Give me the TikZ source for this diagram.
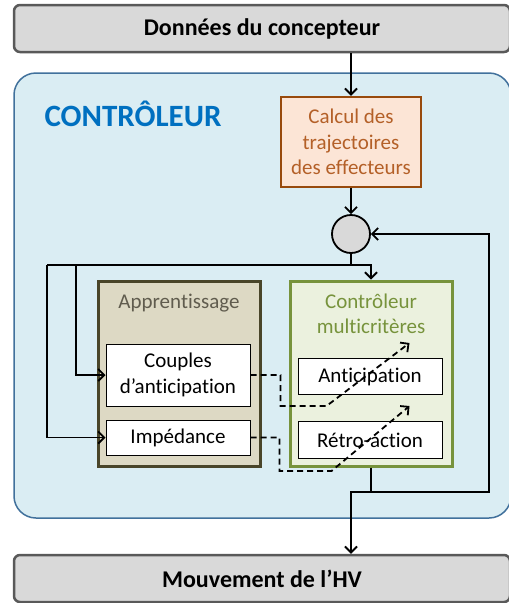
\documentclass[tikz,border=0pt]{standalone}
\usepackage{fontspec}
\setmainfont{Carlito}[Ligatures=NoCommon]
\usepackage{xcolor}
\usetikzlibrary{arrows.meta, positioning}
\definecolor{ctrlfill}{RGB}{218,237,243}
\definecolor{ctrlline}{RGB}{65,113,156}
\definecolor{ctrltext}{RGB}{0,112,192}
\definecolor{calcfill}{RGB}{252,229,214}
\definecolor{calcline}{RGB}{152,74,12}
\definecolor{calctext}{RGB}{180,96,40}
\definecolor{apprfill}{RGB}{221,217,196}
\definecolor{apprline}{RGB}{73,69,41}
\definecolor{apprtext}{RGB}{96,92,78}
\definecolor{multfill}{RGB}{235,241,222}
\definecolor{multline}{RGB}{119,147,60}
\definecolor{greyfill}{RGB}{217,217,217}
\definecolor{greyline}{RGB}{89,89,89}
\tikzset{
x=1pt, y=-1pt, % units of the picture, y goes down
>={Straight Barb[length=6pt,width=12pt]}, % open arrow heads
every node/.style={font=\fontsize{21}{25.5}\selectfont, align=center},
link/.style={line width=1.8pt}, % plain connectors
dashlink/.style={line width=1.8pt, dash pattern=on 6pt off 4pt},
io/.style={draw=greyline, fill=greyfill, line width=2.5pt, rounded corners=6pt,
  minimum width=496pt, minimum height=47pt, font=\fontsize{24}{28}\selectfont\bfseries},
calcbox/.style={draw=calcline, fill=calcfill, text=calctext, line width=2.5pt,
  minimum width=140pt, minimum height=90pt},
sumnode/.style={circle, draw, fill=greyfill, line width=1.8pt, minimum size=38pt},
apprbox/.style={draw=apprline, fill=apprfill, line width=3pt,
  minimum width=162pt, minimum height=185pt},
multbox/.style={draw=multline, fill=multfill, line width=3pt,
  minimum width=162pt, minimum height=185pt},
inbox/.style={draw, fill=white, line width=1pt, minimum width=144pt},
}

\begin{document}
\begin{tikzpicture}
        \useasboundingbox[fill=white] (0,0) rectangle (509,603);

        % controleur en fond
        \node[draw=ctrlline, fill=ctrlfill, line width=1.5pt, rounded corners=22pt,
              minimum width=497pt, minimum height=445pt] (ctrl) at (262.5,295.5) {};
        \node[text=ctrltext, font=\fontsize{31}{36}\selectfont\bfseries] (ctrltitle) at (133,114) {CONTRÔLEUR};

        \node[io] (donnees) at (262,28.5) {Données du concepteur};
        \node[io] (mouvement) at (262,578.5) {Mouvement de l’HV};

        \node[calcbox] (calc) at (351,142) {Calcul des\\trajectoires\\des effecteurs};
        \node[sumnode] (sum) at (351,234) {};

        \node[apprbox] (appr) at (179,373.5) {};
        \node[text=apprtext] (apprtitle) at (179,303) {Apprentissage};
        \node[inbox, minimum height=62pt] (couples) at (178,375) {Couples\\d’anticipation};
        \node[inbox, minimum height=35pt] (imped) at (178,437.5) {Impédance};

        \node[multbox] (mult) at (371,373.5) {};
        \node[text=multline] (multtitle) at (371,314) {Contrôleur\\multicritères};
        \node[inbox, minimum height=36pt] (antic) at (370,376.5) {Anticipation};
        \node[inbox, minimum height=37pt] (retro) at (370,440) {Rétro-action};

        \coordinate (split) at (371,265);
        \coordinate (lft) at (47,265);
        \coordinate (mid) at (76,265);
        \coordinate (fbk) at (489,492);
        \coordinate (out) at (351,492);

        \draw[link, ->] (donnees.south -| calc) -- (calc.north);
        \draw[link, ->] (calc.south) -- (sum.north);
        \draw[link] (sum.south) -- (sum.south |- split);
        \draw[link, ->] (lft) -- (split) -- (mult.north);
        \draw[link, ->] (lft) |- (imped.west);
        \draw[link, ->] (mid) |- (couples.west);
        \draw[link, ->] (mult.south) |- (fbk) |- (sum.east);
        \draw[link, ->] (mult.south |- fbk) -- (out) -- (out |- mouvement.north);

        \draw[dashlink, ->] (couples.east) -- ++(30,0) -- ++(0,31) -- ++(46,0) -- ++(83,-63);
        \draw[dashlink, ->] (imped.east) -- ++(29,0) -- ++(0,33.5) -- ++(52,0) -- ++(78,-65);
    \end{tikzpicture}
\end{document}
